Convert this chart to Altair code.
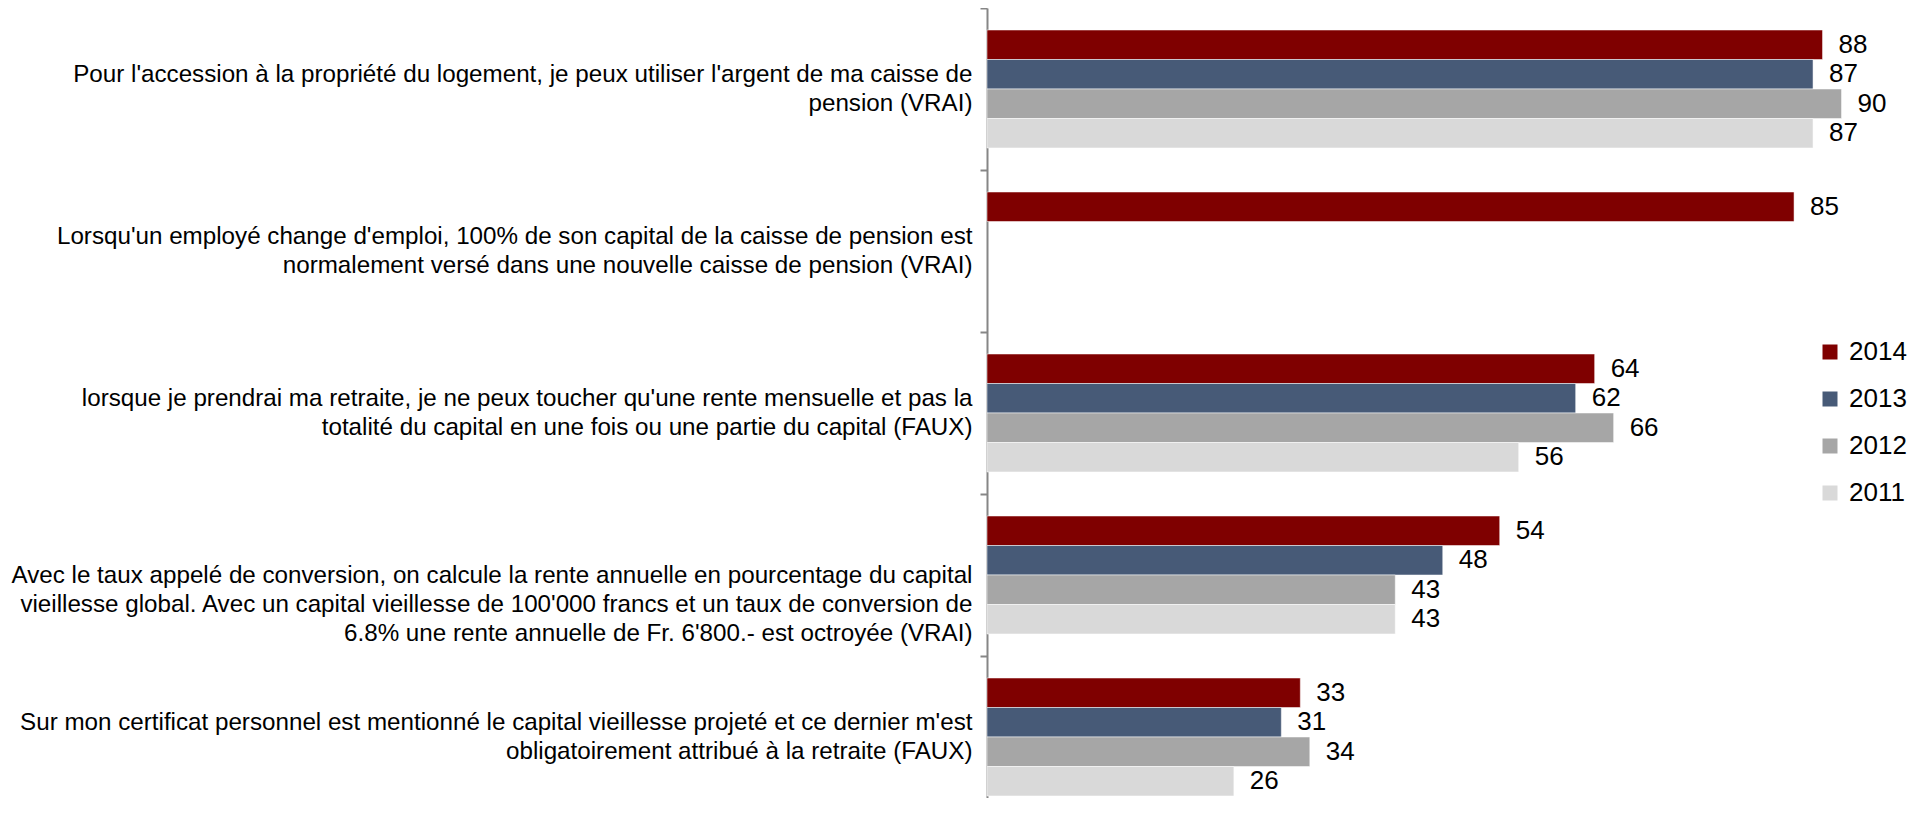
import altair as alt
import pandas as pd

categories = [
    "Pour l'accession à la propriété du logement, je peux utiliser l'argent de ma caisse de|pension (VRAI)",
    "Lorsqu'un employé change d'emploi, 100% de son capital de la caisse de pension est|normalement versé dans une nouvelle caisse de pension (VRAI)",
    "lorsque je prendrai ma retraite, je ne peux toucher qu'une rente mensuelle et pas la|totalité du capital en une fois ou une partie du capital (FAUX)",
    "Avec le taux appelé de conversion, on calcule la rente annuelle en pourcentage du capital|vieillesse global. Avec un capital vieillesse de 100'000 francs et un taux de conversion de|6.8% une rente annuelle de Fr. 6'800.- est octroyée (VRAI)",
    "Sur mon certificat personnel est mentionné le capital vieillesse projeté et ce dernier m'est|obligatoirement attribué à la retraite (FAUX)",
]
years = ["2014", "2013", "2012", "2011"]
v2014 = [88, 85, 64, 54, 33]
v2013 = [87, None, 62, 48, 31]
v2012 = [90, None, 66, 43, 34]
v2011 = [87, None, 56, 43, 26]
colors = ["#7F0000", "#475A77", "#A6A6A6", "#D9D9D9"]

series = [v2014, v2013, v2012, v2011]
rows = []
for i, c in enumerate(categories):
    for yr, vals in zip(years, series):
        if vals[i] is not None:
            rows.append({"question": c, "year": yr, "value": vals[i]})
df = pd.DataFrame(rows)

FONT = "Liberation Sans"

y_enc = alt.Y(
    "question:N",
    sort=categories,
    scale=alt.Scale(domain=categories, paddingInner=0, paddingOuter=0),
    axis=alt.Axis(
        title=None,
        labelExpr="split(datum.label, '|')",
        labelLimit=1500,
        labelFontSize=24.2,
        labelFont=FONT,
        labelColor="#000000",
        labelLineHeight=29,
        labelPadding=8,
        labelAlign="right",
        labelBaseline="middle",
        labelOffset={
            "condition": {"test": "length(split(datum.label, '|')) > 2", "value": 0},
            "value": -14.5,
        },
        tickSize=7,
        tickBand="extent",
        tickColor="#868686",
        tickWidth=2,
        domainColor="#868686",
        domainWidth=2,
        grid=False,
    ),
)
yoff_enc = alt.YOffset(
    "year:N",
    sort=years,
    scale=alt.Scale(domain=years, paddingInner=0, paddingOuter=0.746),
)
x_enc = alt.X("value:Q", scale=alt.Scale(domain=[0, 95], nice=False, zero=True), axis=None)

base = alt.Chart(df)

bars = base.mark_bar(stroke="#ffffff", strokeWidth=1, strokeOpacity=0.5).encode(
    x=x_enc,
    y=y_enc,
    yOffset=yoff_enc,
    color=alt.Color(
        "year:N",
        sort=years,
        scale=alt.Scale(domain=years, range=colors),
        legend=alt.Legend(
            title=None,
            orient="none",
            legendX=830,
            legendY=331,
            symbolType="square",
            symbolSize=225,
            symbolStrokeWidth=0,
            labelFontSize=26,
            labelFont=FONT,
            labelColor="#000000",
            labelOffset=6,
            rowPadding=21,
            padding=0,
        ),
    ),
)

labels = base.mark_text(
    align="left", baseline="middle", dx=16, fontSize=26, font=FONT, color="#000000"
).encode(
    x=x_enc,
    y=y_enc,
    yOffset=yoff_enc,
    text=alt.Text("value:Q"),
)

chart = (
    alt.layer(bars, labels)
    .properties(
        width=902,
        height=810,
        padding={"left": 979, "top": 0, "right": 20, "bottom": -20},
        autosize=alt.AutoSizeParams(type="none"),
    )
    .configure_view(stroke=None)
)

chart.save("out.html", embed_options={"renderer": "svg", "actions": False})
